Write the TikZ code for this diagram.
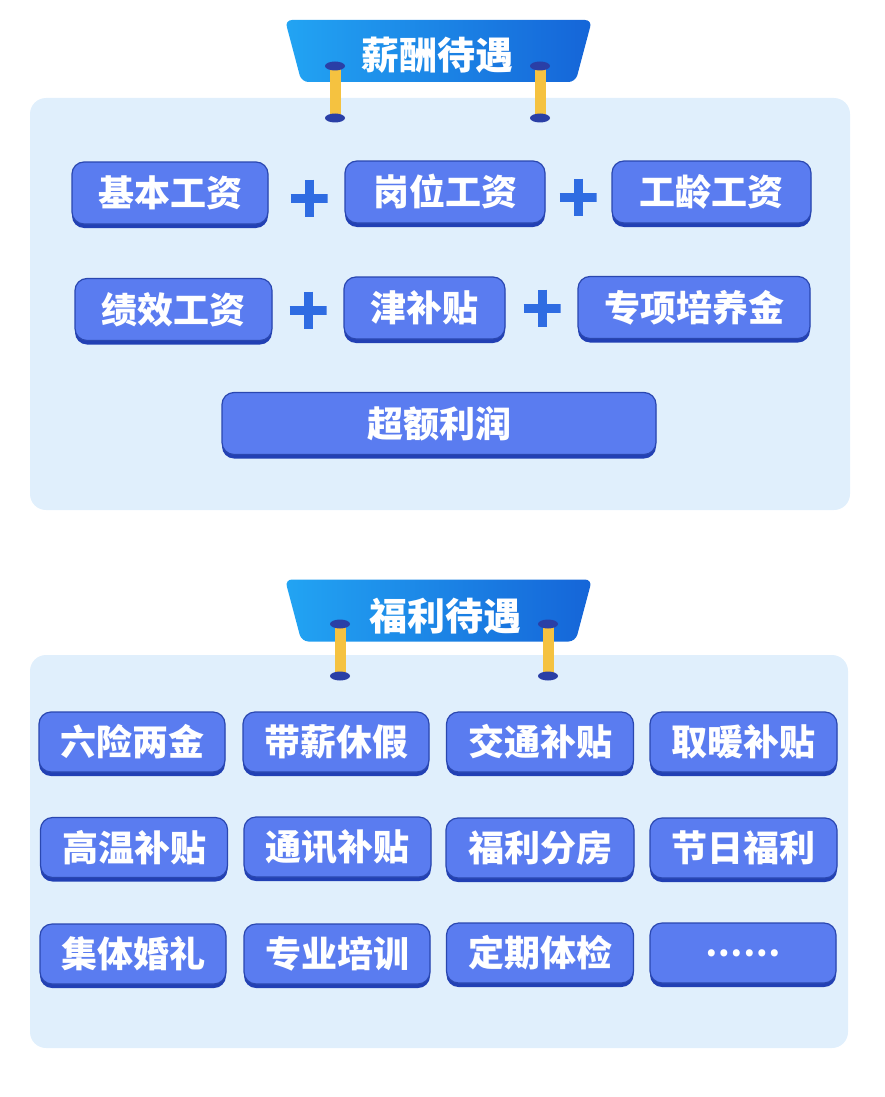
\documentclass[tikz,border=0pt]{standalone}
\usepackage{fontspec}
\newfontfamily\cjk{Noto Sans CJK SC}
\usetikzlibrary{shapes,shadows,backgrounds}
\definecolor{panelbg}{HTML}{E0EFFC}
\definecolor{btnfill}{HTML}{5A7CF0}
\definecolor{btnline}{HTML}{2A47B0}
\definecolor{btnshadow}{HTML}{2240B4}
\definecolor{plusblue}{HTML}{2F6CE2}
\definecolor{bannerleft}{HTML}{22A4F3}
\definecolor{bannerright}{HTML}{1565D8}
\definecolor{postyellow}{HTML}{F5C240}
\definecolor{capnavy}{HTML}{2A3FA6}

\begin{document}
\begin{tikzpicture}
      [x=1pt, y=-1pt,
      panel/.style={rectangle, fill=panelbg, rounded corners=16pt, inner sep=0pt},
      banner/.style={rounded corners=7pt, left color=bannerleft, right color=bannerright},
      bannertext/.style={text=white, inner sep=0pt, font=\cjk\bfseries\fontsize{38}{42}\selectfont},
      btn/.style={rectangle, draw=btnline, line width=1.2pt, fill=btnfill,
        rounded corners=12pt, minimum height=62pt, text=white,
        drop shadow={shadow xshift=0pt, shadow yshift=-4pt, fill=btnshadow, opacity=1},
        font=\cjk\bfseries\fontsize{36}{40}\selectfont},
      plus/.style={rectangle, minimum size=37pt, inner sep=0pt,
        path picture={\draw[plusblue, line width=9pt]
          (path picture bounding box.north) -- (path picture bounding box.south)
          (path picture bounding box.west) -- (path picture bounding box.east);}},
      post/.style={line width=11pt, postyellow},
      postcap/.style={fill=capnavy}]
      \useasboundingbox (0,0) rectangle (885,1097);
      % Panels
      \node [panel, minimum width=820pt, minimum height=412pt] (paypanel) at (440,304) {};
      \node [panel, minimum width=818pt, minimum height=393pt] (welfpanel) at (439,851.5) {};
      % Banners
      \coordinate (pay) at (438.5,51);
      \coordinate (welfare) at (438.5,610.5);
      \path [banner] ([shift={(-153.5,-31)}]pay) -- ([shift={(153.5,-31)}]pay)
        -- ([shift={(137,31)}]pay) -- ([shift={(-137,31)}]pay) -- cycle;
      \path [banner] ([shift={(-153.5,-31)}]welfare) -- ([shift={(153.5,-31)}]welfare)
        -- ([shift={(137,31)}]welfare) -- ([shift={(-137,31)}]welfare) -- cycle;
      \node [bannertext] (paytitle) at (437,55) {薪酬待遇};
      \node [bannertext] (welftitle) at (445,616) {福利待遇};
      % Place nodes: pay
      \node [btn, minimum width=196pt] (base) at (170,193) {基本工资};
      \node [plus] (plusa) at (309,198) {};
      \node [btn, minimum width=200pt] (position) at (445,192) {岗位工资};
      \node [plus] (plusb) at (578,197) {};
      \node [btn, minimum width=199pt] (seniority) at (711.5,192) {工龄工资};
      \node [btn, minimum width=197pt] (perf) at (173.5,309.5) {绩效工资};
      \node [plus] (plusc) at (308,310) {};
      \node [btn, minimum width=161pt] (allowance) at (424.5,308) {津补贴};
      \node [plus] (plusd) at (542,308) {};
      \node [btn, minimum width=232pt] (training) at (694,307.5) {专项培养金};
      \node [btn, minimum width=434pt] (profit) at (439,423.5) {超额利润};
      % Place nodes: welfare
      \node [btn, minimum width=186pt, minimum height=60pt] (insurance) at (132,742) {六险两金};
      \node [btn, minimum width=186pt, minimum height=60pt] (leave) at (336,742) {带薪休假};
      \node [btn, minimum width=187pt, minimum height=60pt] (traffic) at (540,742) {交通补贴};
      \node [btn, minimum width=187pt, minimum height=60pt] (heating) at (743.5,742) {取暖补贴};
      \node [btn, minimum width=187pt, minimum height=60pt] (heat) at (134,847.5) {高温补贴};
      \node [btn, minimum width=187pt, minimum height=60pt] (phone) at (337.5,847) {通讯补贴};
      \node [btn, minimum width=188pt, minimum height=60pt] (housing) at (540,848) {福利分房};
      \node [btn, minimum width=187pt, minimum height=60pt] (holiday) at (743.5,848) {节日福利};
      \node [btn, minimum width=186pt, minimum height=60pt] (wedding) at (133,954) {集体婚礼};
      \node [btn, minimum width=186pt, minimum height=60pt] (course) at (337,954) {专业培训};
      \node [btn, minimum width=187pt, minimum height=60pt] (checkup) at (540,953) {定期体检};
      \node [btn, minimum width=186pt, minimum height=60pt,
        font=\cjk\bfseries\fontsize{33}{36}\selectfont] (more) at (743,953) {……};
      % Posts
      \coordinate (pya) at (335,66);  \coordinate (pyb) at (335,118);
      \coordinate (pyc) at (540,66);  \coordinate (pyd) at (540,118);
      \coordinate (wfa) at (340,624); \coordinate (wfb) at (340,676);
      \coordinate (wfc) at (548,624); \coordinate (wfd) at (548,676);
      \draw [post] (pya) -- (pyb);
      \draw [post] (pyc) -- (pyd);
      \draw [post] (wfa) -- (wfb);
      \draw [post] (wfc) -- (wfd);
      \fill [postcap] (pya) ellipse (10 and 4.5) (pyb) ellipse (10 and 4.5)
        (pyc) ellipse (10 and 4.5) (pyd) ellipse (10 and 4.5)
        (wfa) ellipse (10 and 4.5) (wfb) ellipse (10 and 4.5)
        (wfc) ellipse (10 and 4.5) (wfd) ellipse (10 and 4.5);
    \end{tikzpicture}
\end{document}
